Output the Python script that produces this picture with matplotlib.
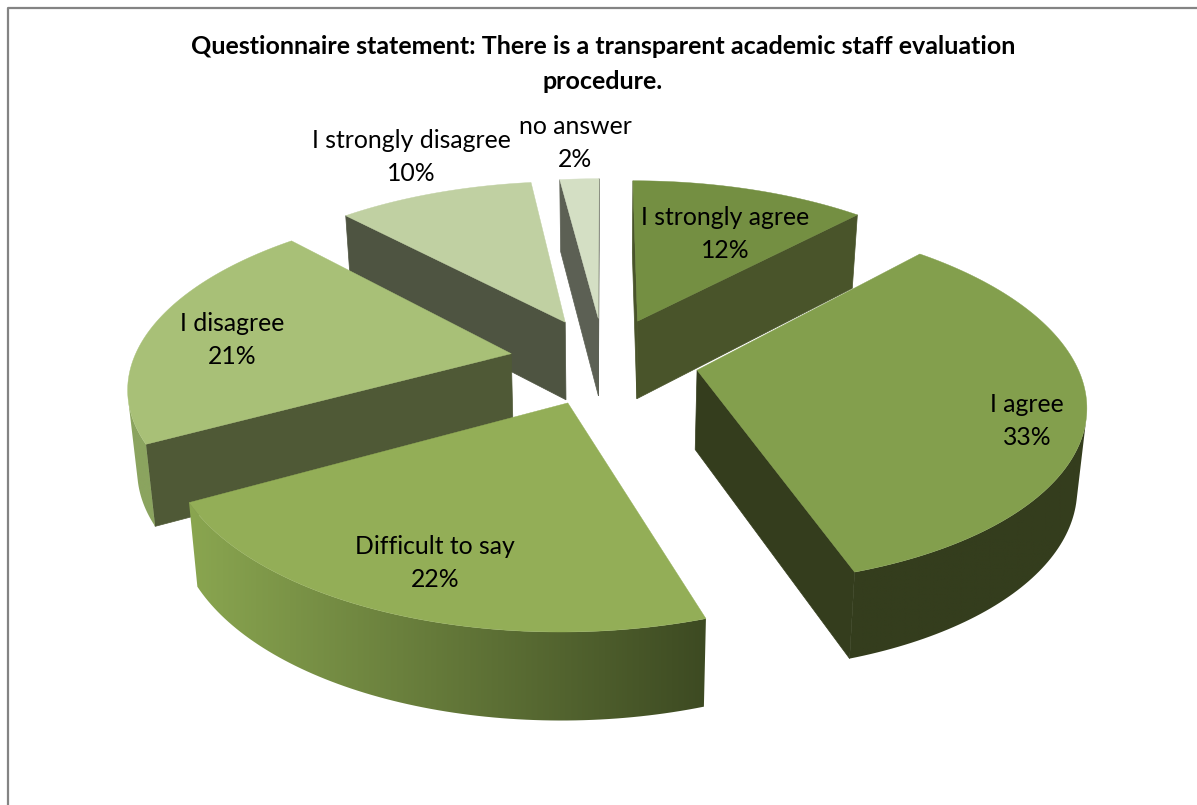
import numpy as np
import matplotlib
matplotlib.use('Agg')
import matplotlib.pyplot as plt
from matplotlib.colors import LinearSegmentedColormap
from matplotlib.patches import Polygon

plt.rcParams['font.family'] = ['Lato', 'DejaVu Sans']

# --- data ---
labels = ['I strongly agree', 'I agree', 'Difficult to say', 'I disagree',
          'I strongly disagree', 'no answer']
values = [12, 33, 22, 21, 10, 2]

title = ('Questionnaire statement: There is a transparent academic staff evaluation\n'
         'procedure.')

# --- colours ---
top_colors = ['#748F42', '#839F4D', '#93AE57', '#A8C077', '#C0D0A2', '#D4DFC4']
wall_colors = ['#49542A', '#343D1D', '#3A4520', '#4F5936', '#4E5441', '#5C6054']
rim_left = ['#49542A', '#343D1D', '#8AA650', '#8BA45F', '#4E5441', '#5C6054']
rim_right = ['#49542A', '#343D1D', '#3D4A22', '#8BA45F', '#4E5441', '#5C6054']

# label centres in pixels
label_pos = [(725, 234), (1027, 421), (435, 563), (232, 340), (411, 157), (575, 143)]

# --- projection, pie lies on a tilted plane ---
CX, CY = 604, 360.5
SCALE_X, SCALE_Y = 378, 175.5
PERSP = 0.165
DEPTH = 79
EXPLODE = 0.25
BOTTOM_SHRINK = 0.98


def project(u, v, bottom=False):
    w = 1 + PERSP * v
    sx = SCALE_X * u / w
    sy = SCALE_Y * v / w
    if bottom:
        return CX + sx * BOTTOM_SHRINK, CY - sy + DEPTH / np.sqrt(w)
    return CX + sx, CY - sy


def signed_area(x, y):
    return 0.5 * np.sum(x * np.roll(y, -1) - np.roll(x, -1) * y)


fig = plt.figure(figsize=(11.97, 8.05), dpi=100)
ax = fig.add_axes([0, 0, 1, 1])
ax.axis('off')

# chart frame
ax.plot([7.5, 7.5, 1197], [805, 8.5, 8.5], color='#848484', lw=1.6, zorder=1)

edges = np.concatenate([[0], np.cumsum(values)]) / np.sum(values) * 2 * np.pi
order = [5, 4, 0, 3, 1, 2]  # back to front

for z, i in enumerate(order):
    base = 10 + z * 10
    a0, a1 = edges[i], edges[i + 1]
    mid = (a0 + a1) / 2
    ou, ov = EXPLODE * np.sin(mid), EXPLODE * np.cos(mid)
    theta = np.linspace(a0, a1, max(int(np.degrees(a1 - a0)), 6))
    u = ou + np.sin(theta)
    v = ov + np.cos(theta)

    # straight walls, apex to rim (y axis points down, so front faces have area < 0)
    for end, sign in ((0, 1), (-1, -1)):
        xt, yt = project(np.array([ou, u[end]]), np.array([ov, v[end]]))
        xb, yb = project(np.array([ou, u[end]]), np.array([ov, v[end]]), bottom=True)
        qx = np.array([xt[0], xt[1], xb[1], xb[0]])
        qy = np.array([yt[0], yt[1], yb[1], yb[0]])
        if sign * signed_area(qx, qy) < 0:
            ax.fill(qx, qy, color=wall_colors[i], lw=0.5, zorder=base)

    # rim, only the part that faces the viewer, shaded along screen x
    xt, yt = project(u, v)
    xb, yb = project(u, v, bottom=True)
    front = [k for k in range(len(theta) - 1)
             if signed_area(np.array([xt[k], xt[k + 1], xb[k + 1], xb[k]]),
                            np.array([yt[k], yt[k + 1], yb[k + 1], yb[k]])) < 0]
    if front:
        ids = np.arange(front[0], front[-1] + 2)
        rx = np.concatenate([xt[ids], xb[ids][::-1]])
        ry = np.concatenate([yt[ids], yb[ids][::-1]])
        rim = Polygon(np.column_stack([rx, ry]), closed=True, transform=ax.transData,
                      facecolor='none', edgecolor='none')
        ax.add_patch(rim)
        cmap = LinearSegmentedColormap.from_list('rim', [rim_left[i], rim_right[i]])
        im = ax.imshow(np.linspace(0, 1, 256)[None, :], cmap=cmap, aspect='auto',
                       extent=(rx.min() - 1, rx.max() + 1, ry.max() + 1, ry.min() - 1),
                       zorder=base + 1, interpolation='bilinear')
        im.set_clip_path(rim)

    # top face
    px = np.concatenate([[project(ou, ov)[0]], xt])
    py = np.concatenate([[project(ou, ov)[1]], yt])
    ax.fill(px, py, color=top_colors[i], lw=0.3, zorder=base + 2)

for name, val, (lx, ly) in zip(labels, values, label_pos):
    ax.text(lx, ly, f'{name}\n{val}%', ha='center', va='center', fontsize=17.8,
            color='black', linespacing=1.49, zorder=100)

ax.text(603, 64, title, ha='center', va='center', fontsize=18, fontweight='bold',
        color='black', linespacing=1.65, zorder=100)

ax.set_xlim(0, 1197)
ax.set_ylim(805, 0)
fig.savefig('out.png', dpi=100)
